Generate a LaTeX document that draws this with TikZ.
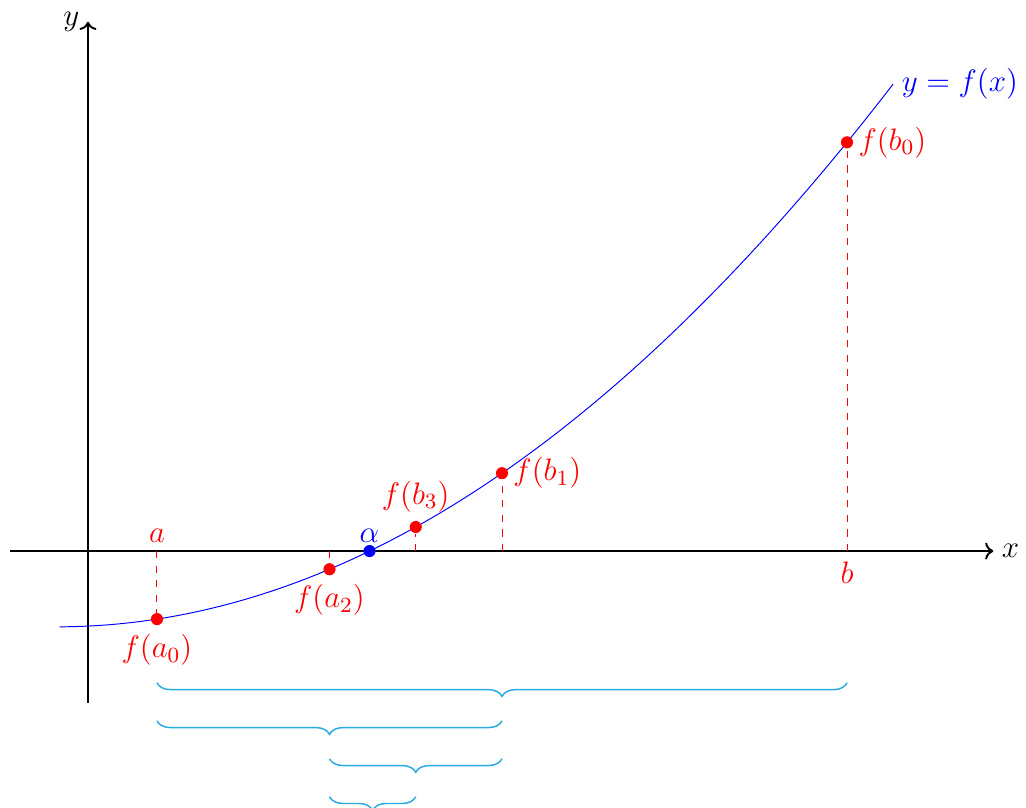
\documentclass[tikz,border=0pt]{standalone}
\usepackage{fix-cm}
\usepackage{amsmath}
\usetikzlibrary{arrows.meta,calc,positioning,decorations.pathreplacing}
\definecolor{Brace}{HTML}{29ABE2}

\begin{document}
\begin{tikzpicture}[
  declare function={f(\x)=0.0536*(\x+0.445)^2-1.098;},
  font=\fontsize{12.8pt}{15pt}\selectfont,
  axis/.style={->,thick},
  dot/.style={circle,fill=red,inner sep=0pt,minimum size=5pt},
  rootdot/.style={circle,fill=blue,inner sep=0pt,minimum size=5pt},
  guide/.style={dashed,red,thin},
  lbl/.style={red},
  brc/.style={decorate,decoration={brace,mirror,amplitude=5.6pt},Brace,semithick}
]
\useasboundingbox (-1.275,-3.71) rectangle (13.594,7.986);

% axes
\coordinate (xs) at (-1.13,0);
\coordinate (xe) at (13.12,0);
\coordinate (ys) at (0,-2.2);
\coordinate (ye) at (0,7.67);
\draw[axis] (xs) -- (xe);
\draw[axis] (ys) -- (ye);
\node[right] (xl) at (xe) {$x$};
\node[left] (yl) at (ye) {$y$};

% curve
\draw[blue] plot[domain=-0.41:11.67,samples=120] (\x,{f(\x)});
\coordinate (ce) at (11.67,{f(11.67)});
\node[blue,right] (fl) at (ce) {$y=f(x)$};

% points on the x-axis
\coordinate (a0) at (1,0);
\coordinate (a2) at (3.5,0);
\coordinate (b3) at (4.75,0);
\coordinate (b1) at (6,0);
\coordinate (b0) at (11,0);
\node[lbl,above] (al) at (a0) {$a$};
\node[lbl,below=1pt] (bl) at (b0) {$b$};

% points on the curve
\node[dot] (fa0) at (1,{f(1)}) {};
\node[dot] (fa2) at (3.5,{f(3.5)}) {};
\node[dot] (fb3) at (4.75,{f(4.75)}) {};
\node[dot] (fb1) at (6,{f(6)}) {};
\node[dot] (fb0) at (11,{f(11)}) {};
\foreach \p in {a0,a2,b3,b1,b0} \draw[guide] (\p) -- (f\p);

\node[lbl,below=0pt of fa0] {$f(a_0)$};
\node[lbl,below=0pt of fa2] {$f(a_2)$};
\node[lbl,above=0pt of fb3] {$f(b_3)$};
\node[lbl,right=-1.5pt of fb1] {$f(b_1)$};
\node[lbl,right=-1.5pt of fb0] {$f(b_0)$};

% root
\node[rootdot] (al0) at (4.08,0) {};
\node[blue,above] (alpha) at (al0.center) {$\alpha$};

% bisection intervals
\foreach \i/\l/\r/\y in {1/1/11/-1.91,2/1/6/-2.46,3/3.5/6/-3.01,4/3.5/4.75/-3.56}{
  \coordinate (L\i) at (\l,\y);
  \coordinate (R\i) at (\r,\y);
  \draw[brc] (L\i) -- (R\i);
}
\end{tikzpicture}
\end{document}
